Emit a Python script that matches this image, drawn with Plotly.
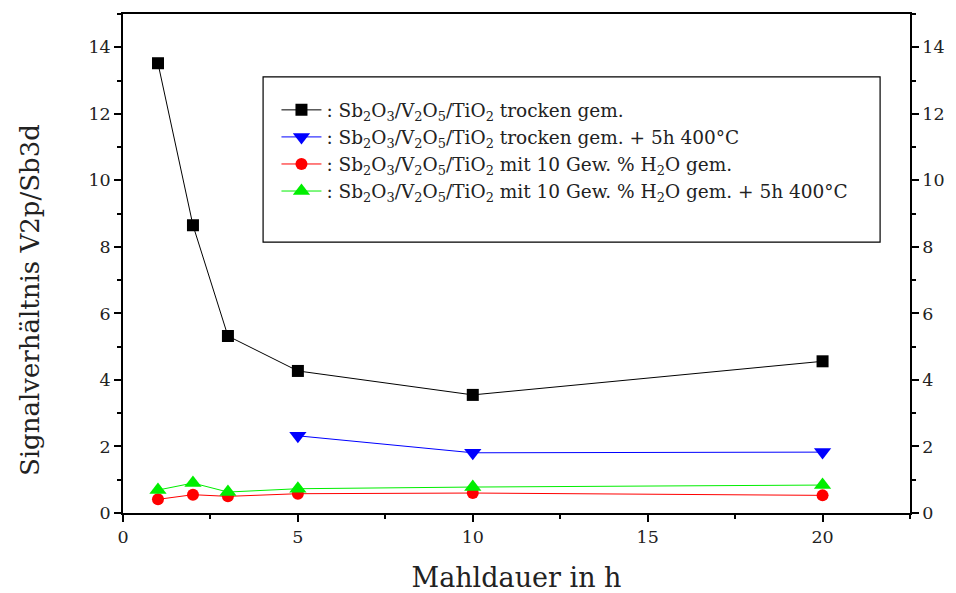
import plotly.graph_objects as go

x_black = [1, 2, 3, 5, 10, 20]
y_black = [13.52, 8.65, 5.32, 4.27, 3.55, 4.56]
x_blue = [5, 10, 20]
y_blue = [2.32, 1.81, 1.83]
x_red = [1, 2, 3, 5, 10, 20]
y_red = [0.41, 0.55, 0.50, 0.58, 0.60, 0.53]
x_green = [1, 2, 3, 5, 10, 20]
y_green = [0.69, 0.90, 0.63, 0.73, 0.78, 0.84]

chem = "Sb<sub>2</sub>O<sub>3</sub>/V<sub>2</sub>O<sub>5</sub>/TiO<sub>2</sub>"
names = [
    ": " + chem + " trocken gem.",
    ": " + chem + " trocken gem. + 5h 400°C",
    ": " + chem + " mit 10 Gew. % H<sub>2</sub>O gem.",
    ": " + chem + " mit 10 Gew. % H<sub>2</sub>O gem. + 5h 400°C",
]

FONT = "DejaVu Serif"
fig = go.Figure()
fig.add_trace(go.Scatter(x=x_black, y=y_black, mode="lines+markers", name=names[0],
                         line=dict(color="black", width=1),
                         marker=dict(symbol="square", size=12, color="black")))
fig.add_trace(go.Scatter(x=x_blue, y=y_blue, mode="lines+markers", name=names[1],
                         line=dict(color="blue", width=1),
                         marker=dict(symbol="triangle-down", size=15, color="blue")))
fig.add_trace(go.Scatter(x=x_red, y=y_red, mode="lines+markers", name=names[2],
                         line=dict(color="red", width=1),
                         marker=dict(symbol="circle", size=12, color="red")))
fig.add_trace(go.Scatter(x=x_green, y=y_green, mode="lines+markers", name=names[3],
                         line=dict(color="#00ee00", width=1),
                         marker=dict(symbol="triangle-up", size=15, color="#00ee00")))
# invisible trace to carry the right axis
fig.add_trace(go.Scatter(x=x_black, y=y_black, yaxis="y2", mode="lines", opacity=0,
                         showlegend=False, hoverinfo="skip"))

axis_common = dict(showgrid=False, zeroline=False, showline=True, linecolor="black", linewidth=1.5,
                   ticks="outside", ticklen=7, tickwidth=1.5, tickcolor="black", automargin=False,
                   tickfont=dict(family=FONT, size=17.5, color="#222"))

fig.update_layout(
    width=956, height=593,
    margin=dict(l=123, r=46, t=14, b=80),
    paper_bgcolor="white", plot_bgcolor="white",
    xaxis=dict(range=[0, 22.5], tickvals=[0, 5, 10, 15, 20], mirror=True,
               minor=dict(ticks="outside", ticklen=4, tickwidth=1.5, tickcolor="black", dtick=2.5),
               title=dict(text="Mahldauer in h", font=dict(family=FONT, size=27, color="#222"),
                          standoff=22),
               **axis_common),
    yaxis=dict(range=[0, 15], tickvals=[0, 2, 4, 6, 8, 10, 12, 14],
               minor=dict(ticks="outside", ticklen=4, tickwidth=1.5, tickcolor="black", dtick=1),
               **axis_common),
    yaxis2=dict(range=[0, 15], tickvals=[0, 2, 4, 6, 8, 10, 12, 14], overlaying="y", side="right",
                anchor="x",
                minor=dict(ticks="outside", ticklen=4, tickwidth=1.5, tickcolor="black", dtick=1),
                **axis_common),
    annotations=[dict(text="Signalverhältnis V2p/Sb3d", textangle=-90, xref="paper", yref="paper",
                      x=-0.118, y=0.427, xanchor="center", yanchor="middle", showarrow=False,
                      font=dict(family=FONT, size=26, color="#222"))],
    legend=dict(x=0.195, y=0.845, xanchor="left", yanchor="top", bgcolor="rgba(0,0,0,0)",
                borderwidth=0, font=dict(family=FONT, size=18.5, color="#222"),
                itemwidth=40, tracegroupgap=0),
    shapes=[dict(type="rect", xref="paper", yref="paper", x0=0.178, x1=0.962, y0=0.543, y1=0.874,
                 line=dict(color="black", width=1.2), fillcolor="rgba(0,0,0,0)")],
    showlegend=True,
)

fig.write_html("out.html", config={"displayModeBar": False},
               post_script="document.body.style.margin='0';document.body.style.padding='0';")
